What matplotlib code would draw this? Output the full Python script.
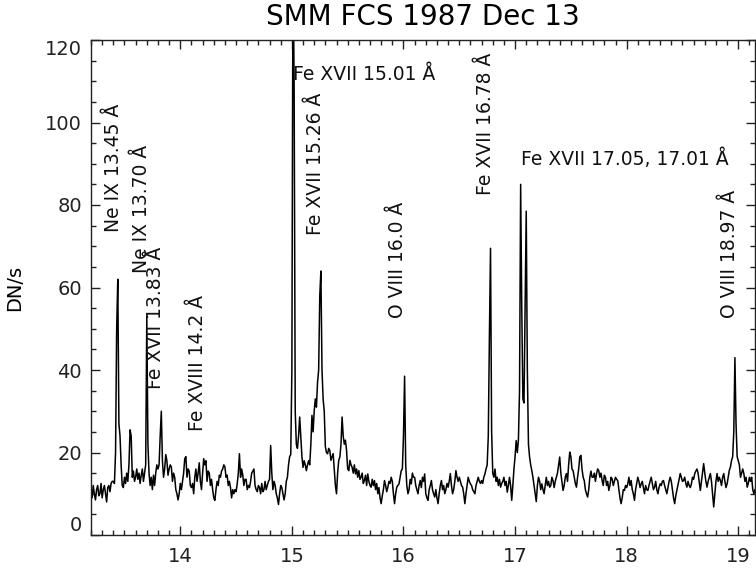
import numpy as np
import matplotlib
matplotlib.use("Agg")
import matplotlib.pyplot as plt
from matplotlib.ticker import MultipleLocator

plt.rcParams["font.family"] = ["DejaVu Sans"]

# spectrum, one value every 0.01 A starting at 13.20 A
start_wl = 13.20
step_wl = 0.01
counts = [
    11, 9, 12, 10, 8.5, 11, 12, 9.5, 10, 12.5,            # 13.2
    9, 11, 12, 10, 8, 11.5, 12, 10.5, 12.5, 13,            # 13.3
    13, 12.5, 20, 50, 62, 27, 24, 17, 12, 11.5,            # 13.4
    14, 12.5, 15, 13, 17, 25.5, 24, 14, 15.5, 13,          # 13.5
    14, 16, 13.5, 15, 12.5, 14.5, 16, 13, 15, 17,          # 13.6
    53, 22, 15, 12, 14, 11, 14.5, 12, 15, 17,              # 13.7
    16, 17, 24, 30, 18, 14, 16, 19.5, 18, 14.5,            # 13.8
    16, 17, 16.5, 13, 15, 14, 11, 10, 8.5, 10,             # 13.9
    12.5, 11, 13, 15, 18.5, 19, 14, 16, 15.5, 12,          # 14.0
    11.5, 12.5, 10, 14, 16, 13, 15, 17.5, 13, 11,          # 14.1
    15, 18.5, 17, 18, 13, 15.5, 15, 12, 13.5, 11,          # 14.2
    9, 8.4, 11, 13, 12, 14.5, 14, 15.5, 16, 17,            # 14.3
    16.5, 14, 14.5, 12, 13, 11.5, 9, 11, 10, 11,           # 14.4
    10.5, 12.4, 15, 19.7, 14, 16, 14.5, 12, 13.5, 13.5,    # 14.5
    11, 12, 11.5, 13, 15, 15.5, 16, 12, 11, 10.5,          # 14.6
    12, 11.5, 10, 12.5, 10.5, 11, 13, 11, 12, 13,          # 14.7
    13.5, 21.7, 15, 11, 13, 12, 10, 9, 7.4, 10,            # 14.8
    12, 11.5, 10, 8.5, 10, 13, 14, 17, 19, 19.5,           # 14.9
    40, 140, 110, 30, 22, 21, 24, 28.6, 24, 19,            # 15.0
    16.4, 18, 17, 15.6, 17, 18, 17, 22, 29, 25,            # 15.1
    30, 33, 31, 37, 40, 58, 64, 40, 33, 30,                # 15.2
    21.4, 20, 19.7, 21, 20.5, 18.1, 19, 19.7, 16, 12,      # 15.3
    10, 15, 18.1, 18.9, 22, 28.6, 24, 22, 23, 20.5,        # 15.4
    16, 15.6, 18.1, 17, 16.4, 15, 17, 14.8, 16, 14,        # 15.5
    15.6, 13.5, 14, 15, 12.5, 13.2, 14.5, 12, 14.8, 13,    # 15.6
    12, 11.6, 13.5, 12, 13.2, 11, 12.5, 10, 11.5, 9,       # 15.7
    7.6, 9.5, 11, 13.2, 12, 10.5, 11.6, 13, 12.5, 14,      # 15.8
    13, 10, 7.6, 10, 11.6, 12, 12.4, 14, 15.6, 16,         # 15.9
    24, 38.5, 17, 12, 10, 11, 13.5, 12.4, 15, 14,          # 16.0
    14, 12, 11, 10, 12, 13.2, 11.5, 14, 13, 14.8,          # 16.1
    10, 9, 8.4, 11, 12, 13.2, 11, 10, 9.2, 11,             # 16.2
    9, 7.6, 10, 12, 13.2, 11, 12, 10, 11, 12.5,            # 16.3
    11.6, 13, 14.9, 12, 10, 11, 13, 15.6, 14, 13,          # 16.4
    14, 13, 12, 11.6, 10, 7.6, 10, 12, 14, 13,             # 16.5
    12.4, 12, 11, 10.5, 10, 12, 13, 14, 13, 12.5,          # 16.6
    13.2, 12.5, 14, 14.8, 16, 17, 24, 48, 69.5, 25,        # 16.7
    15, 14, 16, 13, 14, 12, 13.5, 11.6, 12.5, 13,          # 16.8
    14, 12, 13, 10.4, 12, 14, 12, 8.4, 12, 16,             # 16.9
    19, 22.9, 20, 23, 35, 85, 55, 33, 32, 55,              # 17.0
    78.5, 40, 22, 18.9, 17, 15.6, 14, 12, 10, 8.1,         # 17.1
    12, 14, 13, 11, 12.4, 11, 10, 12, 14, 12,              # 17.2
    13, 11.6, 12, 14, 13.2, 11.5, 13, 14, 15, 17,          # 17.3
    18.9, 15, 13, 10.8, 12, 14, 14.9, 13, 17, 20.1,        # 17.4
    19, 16, 15.6, 14, 12.5, 11.6, 14, 16, 18.9, 19.3,      # 17.5
    16, 14, 13.2, 11, 10, 9.2, 11, 14, 15.5, 14,           # 17.6
    14, 15, 13, 14.8, 16, 15.6, 14, 15, 13.2, 12,          # 17.7
    14.5, 14, 12, 13, 10.8, 12, 14, 13.6, 12, 13,          # 17.8
    14, 13.5, 13.2, 11, 9, 7.6, 9, 11, 10.8, 12,           # 17.9
    11.5, 12.4, 14, 12, 13.2, 11, 10, 8.4, 11, 12.5,       # 18.0
    14, 13, 11.5, 12.4, 13, 11.5, 10, 12, 11, 10.8,        # 18.1
    12, 13, 14, 12.5, 11, 11.6, 13, 11, 10, 11.5,          # 18.2
    12.4, 12, 13, 13.2, 12, 11, 10, 11.5, 13, 14,          # 18.3
    13, 11, 9, 7.6, 9.5, 10.8, 12, 13.5, 14.9, 14,         # 18.4
    13, 13.2, 14, 12.5, 11.6, 13, 12, 11.5, 12.4, 14,      # 18.5
    13.5, 14.9, 15.5, 16, 15, 13, 10.8, 13, 15, 17.3,      # 18.6
    15, 13, 11.6, 13, 14, 14.9, 13, 10, 6.8, 10,           # 18.7
    13, 14.9, 13, 14, 13.2, 12, 14, 14.9, 13, 11.5,        # 18.8
    12.4, 14, 15.7, 16.5, 18.1, 19, 25, 43, 27, 19,        # 18.9
    18, 17, 14, 15, 16, 14.9, 13, 14, 11.6, 12.5,          # 19.0
    14, 13, 14, 11, 10, 11,                                # 19.1
]
wavelength = start_wl + step_wl * np.arange(len(counts))

# line identifications
line_labels = [
    "Ne IX 13.45 Å", "Ne IX 13.70 Å", "Fe XVII 13.83 Å", "Fe XVIII 14.2 Å",
    "Fe XVII 15.01 Å", "Fe XVII 15.26 Å", "O VIII 16.0 Å", "Fe XVII 16.78 Å",
    "Fe XVII 17.05, 17.01 Å", "O VIII 18.97 Å",
]
label_x = [13.45, 13.70, 13.83, 14.20, 15.01, 15.26, 16.00, 16.78, 17.05, 18.97]
label_y = [73.5, 63.5, 35.3, 25.2, 110.2, 72.7, 52.6, 82.5, 89.8, 52.6]
label_rot = [90, 90, 90, 90, 0, 90, 90, 90, 0, 90]


def main():
    fig = plt.figure(figsize=(7.56, 5.71), dpi=100)
    ax = fig.add_axes([91 / 756, 36 / 571, 664 / 756, 495 / 571])

    ax.plot(wavelength, counts, color="black", lw=1.1)

    ax.set_xlim(13.2, 19.15)
    ax.set_ylim(0, 120)
    ax.xaxis.set_major_locator(MultipleLocator(1))
    ax.xaxis.set_minor_locator(MultipleLocator(0.1))
    ax.set_yticks(range(0, 121, 20))
    ax.yaxis.set_minor_locator(MultipleLocator(5))
    ax.tick_params(which="both", direction="in", top=True, right=True,
                   labelsize=14, width=1, colors="#222222")
    ax.tick_params(which="major", length=6.5)
    ax.tick_params(which="minor", length=3.5)
    ax.tick_params(axis="y", pad=6.5)
    ax.tick_params(axis="x", pad=9)
    for sp in ax.spines.values():
        sp.set_linewidth(1)
        sp.set_color("#222222")

    # IDL nudges the end labels inside the axis
    yt = ax.yaxis.get_major_ticks()
    yt[0].label1.set_va("bottom")
    yt[-1].label1.set_va("top")

    ax.set_title("SMM FCS 1987 Dec 13", fontsize=20, pad=11)
    ax.set_ylabel("DN/s", fontsize=14)
    ax.yaxis.set_label_coords(-0.1, 0.5)

    for txt, x, y, rot in zip(line_labels, label_x, label_y, label_rot):
        ax.text(x, y, txt, rotation=rot, rotation_mode="anchor",
                ha="left", va="baseline", fontsize=13.5, color="#111111")

    fig.savefig("out.png", dpi=100)


if __name__ == "__main__":
    main()
